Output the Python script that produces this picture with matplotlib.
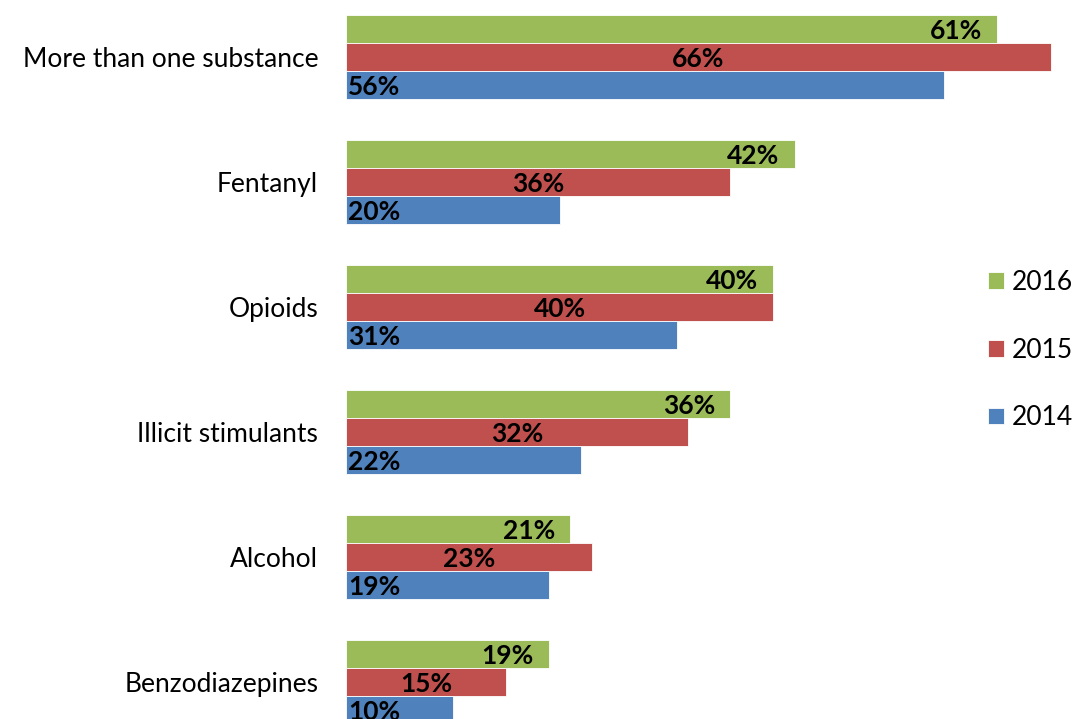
import numpy as np
import matplotlib
matplotlib.use("Agg")
import matplotlib.pyplot as plt

plt.rcParams['font.family'] = ['Lato', 'DejaVu Sans']

# causes listed on the overdose deaths chart, top to bottom
categories = ["More than one substance", "Fentanyl", "Opioids",
              "Illicit stimulants", "Alcohol", "Benzodiazepines"]
pct_2016 = [61, 42, 40, 36, 21, 19]
pct_2015 = [66, 36, 40, 32, 23, 15]
pct_2014 = [56, 20, 31, 22, 19, 10]

colors = {"2016": "#9BBB59", "2015": "#C0504D", "2014": "#4F81BD"}

W, H = 1074, 719
fig = plt.figure(figsize=(W / 100, H / 100), dpi=100)
ax = fig.add_axes([346 / W, 0, 1 - 346 / W, 1])

y = np.arange(len(categories))
bh = 0.224
fs = 19

series = [("2016", pct_2016, -bh), ("2015", pct_2015, 0), ("2014", pct_2014, bh)]
for year, vals, off in series:
    bars = ax.barh(y + off, vals, height=bh, color=colors[year],
                   edgecolor="white", linewidth=0.6, label=year)
    for b, v in zip(bars, vals):
        yc = b.get_y() + b.get_height() / 2
        if year == "2016":
            # inside end
            ax.annotate(f"{v}%", (v, yc), xytext=(-11, 0), textcoords="offset points",
                        ha="right", va="center_baseline", fontsize=fs, fontweight="bold")
        elif year == "2015":
            # centered
            ax.annotate(f"{v}%", (v / 2, yc), ha="center", va="center_baseline",
                        fontsize=fs, fontweight="bold")
        else:
            # inside base
            ax.annotate(f"{v}%", (0, yc), xytext=(1.5, 0), textcoords="offset points",
                        ha="left", va="center_baseline", fontsize=fs, fontweight="bold")

ax.set_xlim(0, (W - 346) / 10.68)
ax.set_ylim((H - 57) / 125, -57 / 125)
ax.set_yticks(y)
ax.set_yticklabels(categories, fontsize=fs)
ax.tick_params(axis="y", length=0, pad=20)
ax.set_xticks([])
for s in ax.spines.values():
    s.set_visible(False)

fig.legend(frameon=False, loc="center left", bbox_to_anchor=(988 / W, 1 - 350 / H),
           fontsize=fs, handlelength=0.6, handleheight=0.6, handletextpad=0.3,
           labelspacing=1.62, borderpad=0, borderaxespad=0)

fig.savefig("out.png", dpi=100)
